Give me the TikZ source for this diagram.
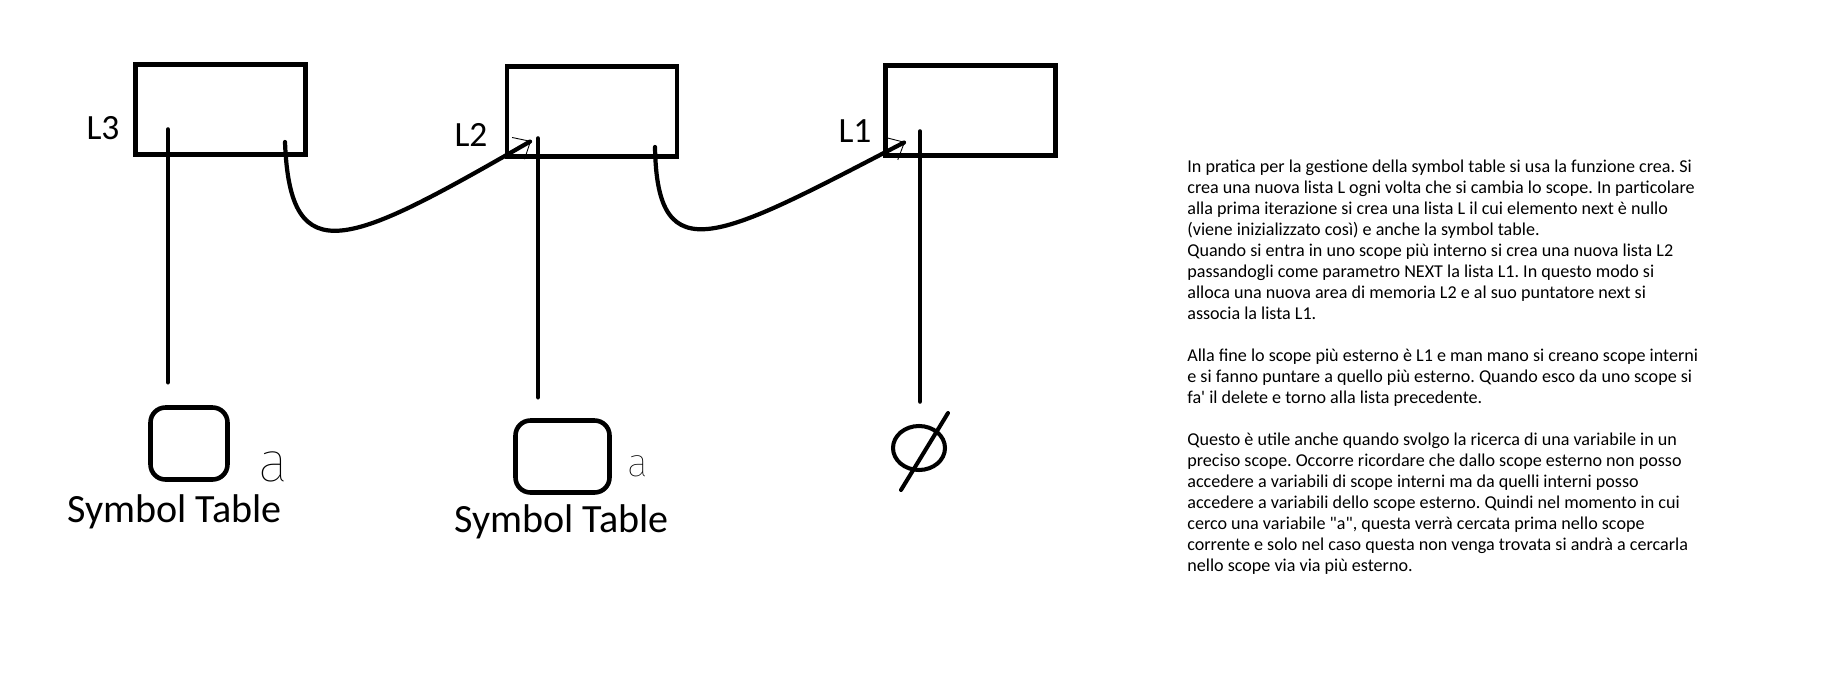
\documentclass[tikz,border=0pt]{standalone}
\usepackage{fontspec}
\setmainfont{Carlito}
\IfFontExistsTF{Fira Sans Thin}{\newfontfamily\handfont{Fira Sans Thin}}{%
  \IfFontExistsTF{Fira Sans Light}{\newfontfamily\handfont{Fira Sans Light}}{\newfontfamily\handfont{Carlito}}}
\usepackage{tikz}
\usetikzlibrary{arrows.meta, positioning, shapes.geometric}

\tikzset{
  listbox/.style={draw, line width=2.8pt, minimum width=3.4cm, minimum height=1.8cm, inner sep=0pt},
  tablebox/.style={draw, line width=2.6pt, rounded corners=0.3cm, minimum height=1.44cm, inner sep=0pt},
  listlabel/.style={font=\fontsize{20.2pt}{24pt}\selectfont, inner sep=0pt},
  tablelabel/.style={font=\fontsize{22.8pt}{26pt}\selectfont, inner sep=0pt, anchor=base},
  handletter/.style={inner sep=0pt},
  stlink/.style={line width=2.6pt, line cap=round},
  nextlink/.style={line width=2.4pt, line cap=round, -{Straight Barb[line width=0.5pt, length=0.28cm, width=0.5cm]}},
}

\begin{document}
\frenchspacing
\begin{tikzpicture}
    \useasboundingbox (0,0) rectangle (36.84,13.96);

    % Lists
    \node[listbox] (l3) at (4.41,11.77) {};
    \node[listbox] (l2) at (11.84,11.73) {};
    \node[listbox] (l1) at (19.41,11.75) {};
    \node[listlabel] (l3lbl) at (2.06,11.40) {L3};
    \node[listlabel] (l2lbl) at (9.42,11.26) {L2};
    \node[listlabel] (l1lbl) at (17.10,11.34) {L1};

    % Symbol tables
    \node[tablebox, minimum width=1.54cm] (st3) at (3.78,5.09) {};
    \node[tablebox, minimum width=1.88cm] (st2) at (11.25,4.83) {};
    \node[handletter] (st3a) at (5.46,4.62) {\handfont\fontsize{32pt}{34pt}\selectfont a};
    \node[handletter] (st2a) at (12.76,4.63) {\handfont\fontsize{22.4pt}{25pt}\selectfont a};
    \node[tablelabel] (st3lbl) at (3.49,3.52) {Symbol Table};
    \node[tablelabel] (st2lbl) at (11.23,3.32) {Symbol Table};

    % Empty set under L1
    \node[draw, ellipse, line width=2.3pt, minimum width=1.04cm, minimum height=0.88cm, inner sep=0pt] (nul) at (18.38,5.00) {};
    \draw[line width=2.3pt, line cap=round] (18.96,5.70) -- (18.02,4.16);

    % Pointers to the tables
    \coordinate (l3st) at (3.36,11.37);
    \coordinate (l2st) at (10.76,11.19);
    \coordinate (l1st) at (18.40,11.33);
    \draw[stlink, shorten >=0.46cm] (l3st) -- (l3st |- st3.north);
    \draw[stlink, shorten >=0.42cm] (l2st) -- (l2st |- st2.north);
    \draw[stlink, shorten >=0.45cm] (l1st) -- (l1st |- nul.north);

    % Next pointers
    \coordinate (l3nx) at (5.70,11.12);
    \coordinate (l2nx) at (13.10,11.02);
    \coordinate (l2in) at (10.62,11.14);
    \coordinate (l1in) at (18.10,11.12);
    \draw[nextlink] (l3nx) .. controls (5.80,8.46) and (7.00,9.06) .. (l2in);
    \draw[nextlink] (l2nx) .. controls (13.14,8.46) and (14.40,9.20) .. (l1in);

    % Notes
    \node[anchor=north west, align=left, inner sep=0pt, font=\fontsize{10.3pt}{11.93pt}\selectfont] (note) at (23.74,10.76) {%
        In pratica per la gestione della symbol table si usa la funzione crea. Si\\
        crea una nuova lista L ogni volta che si cambia lo scope. In particolare\\
        alla prima iterazione si crea una lista L il cui elemento next è nullo\\
        (viene inizializzato così) e anche la symbol table.\\
        Quando si entra in uno scope più interno si crea una nuova lista L2\\
        passandogli come parametro NEXT la lista L1. In questo modo si\\
        alloca una nuova area di memoria L2 e al suo puntatore next si\\
        associa la lista L1.\\[11.93pt]
        Alla fine lo scope più esterno è L1 e man mano si creano scope interni\\
        e si fanno puntare a quello più esterno. Quando esco da uno scope si\\
        fa\textquotesingle{} il delete e torno alla lista precedente.\\[11.93pt]
        Questo è utile anche quando svolgo la ricerca di una variabile in un\\
        preciso scope. Occorre ricordare che dallo scope esterno non posso\\
        accedere a variabili di scope interni ma da quelli interni posso\\
        accedere a variabili dello scope esterno. Quindi nel momento in cui\\
        cerco una variabile \textquotedbl a\textquotedbl, questa verrà cercata prima nello scope\\
        corrente e solo nel caso questa non venga trovata si andrà a cercarla\\
        nello scope via via più esterno.};
\end{tikzpicture}
\end{document}
